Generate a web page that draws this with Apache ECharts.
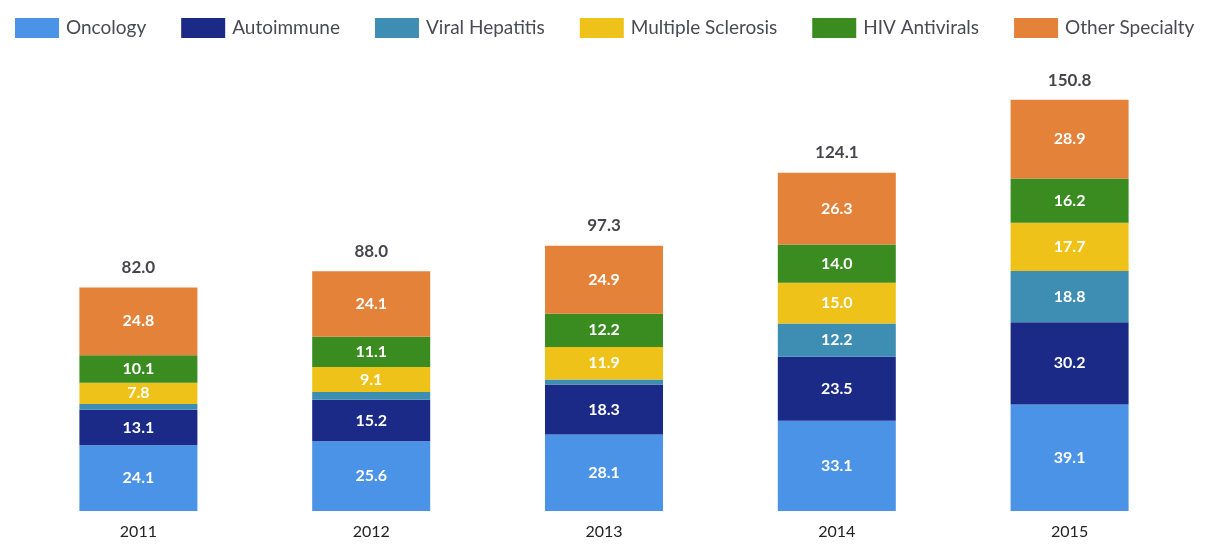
<!DOCTYPE html>
<html><head><meta charset="utf-8">
<script src="https://cdn.jsdelivr.net/npm/echarts@6/dist/echarts.min.js"></script>
<style>html,body{margin:0;padding:0;background:#fff}#c{width:1206px;height:547px}</style>
</head><body><div id="c"></div>
<script>
const years = ['2011','2012','2013','2014','2015'];
const oncology = [24.1, 25.6, 28.1, 33.1, 39.1];
const autoimmune = [13.1, 15.2, 18.3, 23.5, 30.2];
const viralHepatitis = [2.1, 2.9, 1.9, 12.2, 18.8];
const multipleSclerosis = [7.8, 9.1, 11.9, 15.0, 17.7];
const hivAntivirals = [10.1, 11.1, 12.2, 14.0, 16.2];
const otherSpecialty = [24.8, 24.1, 24.9, 26.3, 28.9];
const totals = [82.0, 88.0, 97.3, 124.1, 150.8];

const names = ['Oncology','Autoimmune','Viral Hepatitis','Multiple Sclerosis','HIV Antivirals','Other Specialty'];
const colors = ['#4a93e6','#1b2a86','#3e8db3','#efc21a','#3a8c20','#e4823a'];
const datas = [oncology, autoimmune, viralHepatitis, multipleSclerosis, hivAntivirals, otherSpecialty];
const FONT = 'Lato';

const series = names.map((n,i)=>({
  name:n, type:'bar', stack:'total', barWidth:118,
  data:datas[i], itemStyle:{color:colors[i]},
  label:{show:true, position:'inside', color:'#fff', fontFamily:FONT, fontSize:16, fontWeight:'bold',
    formatter:p=> p.value < 5 ? '' : p.value.toFixed(1)}
}));
series.push({
  name:'Total', type:'scatter', data:totals, symbolSize:1, silent:true,
  itemStyle:{color:'rgba(0,0,0,0)'},
  label:{show:true, position:'top', distance:11, color:'#15151f', fontFamily:FONT, fontSize:17, fontWeight:'bold',
    formatter:p=>p.value.toFixed(1)}
});

const chart = echarts.init(document.getElementById('c'));
chart.setOption({
  animation:false,
  legend:{data:names, top:13, left:10, width:1196, itemWidth:44, itemHeight:20, itemGap:35,
    icon:'rect',
    textStyle:{fontFamily:FONT, fontSize:19, color:'#4a4a55', padding:[0,0,0,2]}},
  grid:{left:22, right:20, top:75, bottom:36},
  xAxis:{type:'category', data:years, axisLine:{show:false}, axisTick:{show:false},
    axisLabel:{fontFamily:FONT, fontSize:16, color:'#222', margin:13}},
  yAxis:{type:'value', min:0, max:160, show:false},
  series
});
</script></body></html>
